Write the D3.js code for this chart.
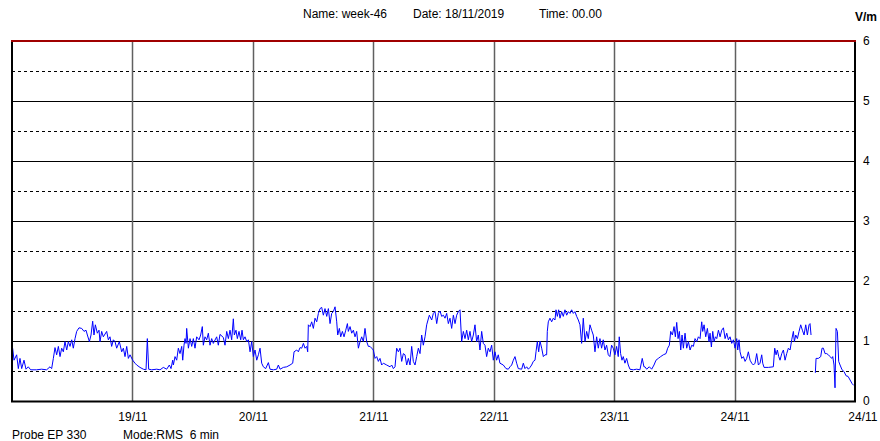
<!DOCTYPE html>
<html><head><meta charset="utf-8">
<script src="https://cdn.jsdelivr.net/npm/d3@7"></script>
<style>
html,body{margin:0;padding:0;background:#fff;}
svg{display:block;}
text{font-family:"Liberation Sans",Arial,sans-serif;font-size:12px;fill:#000;}
</style></head><body>
<svg id="chart" width="880" height="441"></svg>
<script>
// ---- data ----
const titleParts = ["Name: week-46", "Date: 18/11/2019", "Time: 00.00"];
const footerParts = ["Probe EP 330", "Mode:RMS  6 min"];
const unitLabel = "V/m";
const dayTickHours = [24, 48, 72, 96, 120, 144, 168];
const dayTickLabels = ["19/11", "20/11", "21/11", "22/11", "23/11", "24/11", "24/11"];
const yTicks = [0, 1, 2, 3, 4, 5, 6];
const yHalfTicks = [0.5, 1.5, 2.5, 3.5, 4.5, 5.5];
// hours since 18/11/2019 00:00, field strength in V/m (null = gap in record)
const hours = [0.13,0.4,0.93,1.26,1.59,1.93,2.39,2.79,3.25,3.72,4.91,5.9,6.9,7.57,7.9,8.24,8.57,8.9,9.24,9.57,9.9,10.23,10.56,10.9,11.23,11.56,11.9,12.22,12.56,12.89,13.35,13.89,14.35,14.75,15.02,15.42,15.75,16.08,16.34,16.61,17.01,17.34,17.54,17.87,18.2,18.87,19.2,19.53,19.86,20.2,20.53,20.86,21.39,21.86,22.19,22.52,22.86,23.19,23.52,24.05,24.51,24.85,25.51,26.17,26.71,26.97,27.24,27.84,28.83,29.5,30.16,30.83,31.36,31.69,32.02,32.16,32.49,32.82,33.15,33.48,33.82,34.02,34.28,34.48,34.68,34.81,35.15,35.48,35.81,36.14,36.47,36.8,37.27,37.6,37.93,38.13,38.46,38.8,39.13,39.46,39.79,40.12,40.79,41.12,41.45,42.11,
42.45,42.79,43.12,43.45,43.78,44.11,44.31,44.64,44.91,45.24,45.58,45.84,46.11,46.44,46.78,47.11,47.44,47.77,48.1,48.43,48.77,49.1,49.43,49.76,50.09,50.56,51.09,51.42,52.09,52.75,53.08,53.42,54.08,54.75,55.41,55.94,56.21,56.74,57.07,57.4,57.74,58.07,58.4,58.73,58.93,59.06,59.4,59.73,60.06,60.39,60.73,61.06,61.39,61.72,62.05,62.38,62.72,63.05,63.38,63.71,64.04,64.38,64.71,64.91,65.24,65.51,65.84,66.17,66.51,66.84,67.03,67.37,67.7,68.03,68.36,68.69,69.03,69.36,69.69,70.02,70.35,70.69,71.02,71.35,71.68,72.01,72.35,72.68,73.01,73.34,73.67,74.01,74.67,75.34,75.67,76,76.33,76.66,77,77.33,77.66,77.99,78.32,78.66,78.99,79.32,79.65,79.98,80.32,80.65,80.98,81.31,81.64,81.97,82.31,82.64,83.17,83.64,83.97,
84.3,84.64,84.97,85.3,85.63,85.97,86.3,86.63,86.96,87.29,87.62,87.96,88.29,88.62,88.95,89.28,89.61,89.95,90.28,90.61,90.94,91.27,91.6,91.94,92.27,92.6,92.93,93.26,93.6,93.93,94.26,94.59,94.92,95.25,95.59,95.92,96.25,96.58,96.91,97.24,97.91,98.45,98.91,99.24,99.58,99.91,100.24,100.57,100.9,101.57,101.9,102.23,102.57,102.9,103.23,103.56,103.89,104.23,104.43,104.69,104.96,105.22,105.56,105.89,106.22,106.55,106.68,106.88,107.21,107.55,107.88,108.21,108.41,108.68,108.94,109.21,109.54,109.87,110.2,110.54,110.87,111.2,111.53,111.86,112.19,112.53,112.86,113.19,113.52,113.85,114.19,114.52,114.85,115.18,115.51,115.84,116.18,116.51,116.84,117.17,117.5,117.83,118.17,118.5,118.83,119.16,119.49,119.82,120.16,120.49,120.82,121.02,121.29,121.56,121.82,122.15,122.49,122.82,123.15,123.81,124.48,125.14,125.6,125.94,
126.14,126.48,127.01,127.48,127.94,128.34,128.8,129.27,129.8,130.34,130.67,131,131.27,131.6,131.94,132.2,132.47,132.74,133,133.27,133.53,133.8,134.13,134.46,134.8,135.13,135.46,135.79,136.12,136.46,136.79,137.12,137.45,137.65,137.92,138.25,138.58,138.91,139.11,139.38,139.65,139.91,140.18,140.45,140.78,141.11,141.44,141.78,142.11,142.44,142.77,143.1,143.43,143.77,144.1,144.43,144.63,144.89,145.09,145.43,145.76,146.09,146.42,146.75,147.09,147.42,147.75,148.08,148.41,148.75,149.08,149.41,149.61,149.87,150.74,151.73,152.0,152.27,152.53,152.8,153.06,153.4,153.73,154.06,154.39,154.72,155.06,155.39,155.72,155.92,156.19,156.52,156.85,157.18,157.51,157.85,158.18,158.51,158.84,159.04,159.24,159.6,
160.1,160.24,160.7,161.17,161.43,161.7,162.03,162.36,162.7,163.03,163.36,163.56,163.82,164.02,164.22,164.49,164.75,165.02,165.42,165.82,166.22,166.62,167.02,167.42,167.75];
const fieldValues = [0.88,0.68,0.77,0.54,0.71,0.54,0.68,0.53,0.57,0.52,0.52,0.53,0.52,0.57,0.54,0.71,0.89,0.77,0.91,0.74,0.88,0.82,0.99,0.85,0.99,0.91,1.02,0.88,1.04,1.16,1.22,1.21,1.16,1.18,1.1,0.99,1.1,1.33,1.1,1.27,1.13,1.18,0.99,1.16,1.07,1.16,1.02,1.07,0.91,1.02,0.99,0.88,0.99,0.82,0.88,0.74,0.91,0.71,0.77,0.68,0.63,0.6,0.56,0.53,0.52,1.04,0.53,0.52,0.53,0.52,0.56,0.53,0.6,0.54,0.68,0.6,0.74,0.68,0.88,0.79,0.91,0.68,0.93,1.04,0.96,1.21,0.88,1.04,0.91,1.04,0.88,1.07,1.02,1.1,1.24,0.93,1.07,1.02,1.13,0.93,1.04,0.96,1.07,0.93,1.11,1.06,
0.93,1.16,1.04,1.18,1.02,1.37,1.1,1.18,1.04,1.16,1.02,1.18,1.02,1.07,0.99,1.02,0.82,0.99,0.74,0.85,0.68,0.77,0.88,0.63,0.57,0.54,0.64,0.53,0.52,0.53,0.6,0.53,0.56,0.57,0.6,0.63,0.82,0.85,0.82,0.89,0.88,0.96,0.88,0.91,0.82,1.27,1.24,1.32,1.21,1.38,1.32,1.46,1.54,1.56,1.43,1.54,1.41,1.54,1.29,1.46,1.49,1.57,1.32,1.1,1.21,1.07,1.16,1.07,1.18,1.29,1.16,1.24,1.13,1.18,1.07,1.16,0.88,0.99,1.07,0.99,1.21,0.99,0.91,0.91,0.88,0.85,0.71,0.74,0.66,0.71,0.6,0.63,0.6,0.57,0.6,0.54,0.57,0.88,0.82,0.88,0.66,0.79,0.77,0.6,0.71,0.6,0.91,0.66,0.6,0.74,0.88,0.79,1.1,0.93,1.07,1.27,1.43,1.35,1.46,
1.49,1.29,1.46,1.5,1.41,1.43,1.38,1.46,1.29,1.38,1.21,1.43,1.29,1.43,1.49,1.52,0.99,1.16,1.04,1.18,1.02,1.16,0.99,1.1,1.27,0.99,1.1,0.85,1.16,0.96,0.93,0.74,0.88,0.82,0.93,0.68,0.82,0.68,0.77,0.63,0.6,0.54,0.53,0.57,0.6,0.68,0.74,0.63,0.54,0.53,0.63,0.54,0.57,0.53,0.56,0.6,0.66,0.68,0.82,0.99,0.82,1.0,0.88,0.74,0.77,0.77,1.16,1.32,1.38,1.32,1.38,1.35,1.52,1.41,1.52,1.38,1.49,1.41,1.52,1.43,1.49,1.46,1.52,1.46,1.49,1.41,1.35,1.27,0.96,1.38,0.99,1.16,1.04,1.27,1.18,1.1,0.82,1.07,0.88,1.04,0.88,1.02,0.85,0.93,0.77,0.74,0.93,0.88,0.77,0.91,0.74,1.07,0.79,0.68,0.74,0.63,0.71,0.6,0.53,0.52,0.53,0.52,0.71,0.57,
0.57,0.53,0.57,0.53,0.6,0.68,0.71,0.74,0.77,0.79,0.88,0.93,1.16,1.1,1.24,1.07,1.31,1.04,1.16,0.85,1.1,0.88,1.13,0.88,0.99,0.85,0.93,0.91,1.04,0.99,1.07,1.04,1.32,1.16,1.27,1.07,1.21,0.99,1.13,0.9,1.16,0.99,1.07,1.04,1.18,1.07,1.18,1.22,1.04,1.13,1.02,1.07,0.96,1.02,0.88,1.04,0.85,1.02,0.82,0.71,0.74,0.66,0.71,0.82,0.68,0.63,0.6,0.63,0.79,0.6,0.63,0.77,0.63,0.56,0.56,0.57,0.88,0.77,0.85,0.74,0.68,0.79,0.85,0.68,0.79,0.88,0.85,1.02,1.16,0.99,1.1,1.04,1.16,1.27,1.18,1.1,1.27,1.1,1.27,1.29,1.1,null,
0.47,0.71,0.71,0.74,0.88,0.88,0.79,0.79,0.77,0.74,0.71,0.74,0.6,0.22,1.21,1.16,0.66,0.6,0.52,0.49,0.42,0.41,0.35,0.29,0.26];

// ---- drawing ----
const svg = d3.select("#chart");
const pLeft = 12, pRight = 855, pTop = 41, pBottom = 401;
const x = d3.scaleLinear().domain([0, 168]).range([pLeft, pRight]);
const y = d3.scaleLinear().domain([0, 6]).range([pBottom, pTop]);

const g = svg.append("g");

// dashed half-unit gridlines
g.selectAll("line.half").data(yHalfTicks).join("line")
  .attr("x1", pLeft).attr("x2", pRight)
  .attr("y1", d => Math.round(y(d)) + 0.5).attr("y2", d => Math.round(y(d)) + 0.5)
  .attr("stroke", "#000").attr("stroke-width", 1).attr("stroke-dasharray", "3,3");

// solid unit gridlines
g.selectAll("line.unit").data(yTicks.filter(d => d > 0 && d < 6)).join("line")
  .attr("x1", pLeft).attr("x2", pRight)
  .attr("y1", d => Math.round(y(d)) + 0.5).attr("y2", d => Math.round(y(d)) + 0.5)
  .attr("stroke", "#000").attr("stroke-width", 1);

// vertical day gridlines
g.selectAll("line.day").data(dayTickHours.slice(0, -1)).join("line")
  .attr("x1", d => Math.round(x(d)) + 0.5).attr("x2", d => Math.round(x(d)) + 0.5)
  .attr("y1", pTop).attr("y2", pBottom)
  .attr("stroke", "#606060").attr("stroke-width", 1.5);

// data line
const n = Math.min(hours.length, fieldValues.length);
const pts = hours.slice(0, n).map((h, i) => [h, fieldValues[i]]);
const line = d3.line().defined(d => d[1] !== null).x(d => x(d[0])).y(d => y(d[1]));
g.append("path").datum(pts)
  .attr("d", line).attr("fill", "none")
  .attr("stroke", "#0000ff").attr("stroke-width", 1);

// frame
g.append("line").attr("x1", pLeft).attr("x2", pLeft).attr("y1", pTop).attr("y2", pBottom + 1)
  .attr("stroke", "#000").attr("stroke-width", 2);
g.append("line").attr("x1", pLeft - 1).attr("x2", pRight + 1).attr("y1", pBottom + 0.5).attr("y2", pBottom + 0.5)
  .attr("stroke", "#000").attr("stroke-width", 2);
g.append("line").attr("x1", pRight).attr("x2", pRight).attr("y1", pTop).attr("y2", pBottom + 1)
  .attr("stroke", "#000").attr("stroke-width", 2);
g.append("line").attr("x1", pLeft - 1).attr("x2", pRight + 1).attr("y1", pTop).attr("y2", pTop)
  .attr("stroke", "#a00000").attr("stroke-width", 2);

// right y axis labels
const yAxis = d3.axisRight(y).tickValues(yTicks).tickSize(0).tickPadding(8).tickFormat(d3.format("d"));
const ya = svg.append("g").attr("transform", `translate(${pRight},0)`).call(yAxis);
ya.select(".domain").remove();
ya.selectAll("text").style("font-family", '"Liberation Sans",Arial,sans-serif').style("font-size", "12px");

svg.append("text").attr("x", 877).attr("y", 21).attr("text-anchor", "end")
  .style("font-weight", "bold").text(unitLabel);

// x axis day labels
const xAxis = d3.axisBottom(x).tickValues(dayTickHours).tickSize(0).tickPadding(11)
  .tickFormat((d, i) => dayTickLabels[i]);
const xa = svg.append("g").attr("transform", `translate(0,${pBottom})`).call(xAxis);
xa.select(".domain").remove();
xa.selectAll("text").style("font-family", '"Liberation Sans",Arial,sans-serif').style("font-size", "12px");
xa.selectAll(".tick").filter(d => d === 168).select("text").attr("text-anchor", "end").attr("x", 877 - pRight);

// title
const titleX = [303, 413, 539];
svg.selectAll("text.title").data(titleParts).join("text").attr("class", "title")
  .attr("x", (d, i) => titleX[i]).attr("y", 18).text(d => d);

// footer
const footX = [12, 123];
svg.selectAll("text.foot").data(footerParts).join("text").attr("class", "foot")
  .attr("x", (d, i) => footX[i]).attr("y", 439).style("white-space", "pre").text(d => d);

if (hours.length !== fieldValues.length) {
  throw new Error("length mismatch " + hours.length + " vs " + fieldValues.length);
}
</script>
</body></html>
